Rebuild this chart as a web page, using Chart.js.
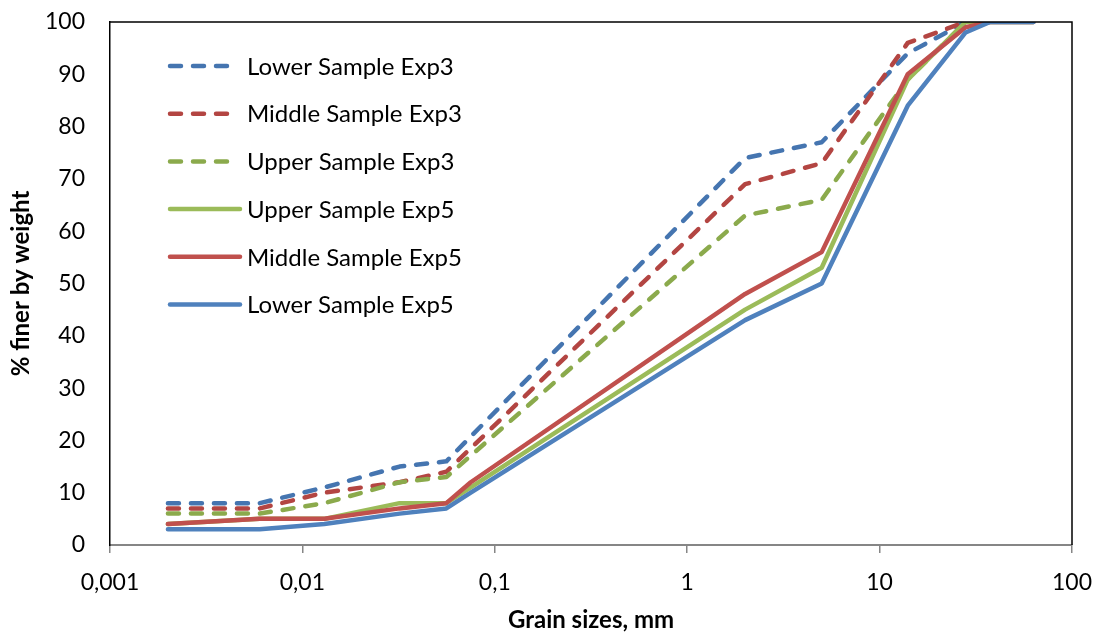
<!DOCTYPE html>
<html>
<head>
<meta charset="utf-8">
<title>Grain size distribution</title>
<script src="https://cdn.jsdelivr.net/npm/chart.js@4.4.1/dist/chart.umd.min.js"></script>
<style>
    html, body { margin: 0; padding: 0; background: #ffffff; }
    #wrap { width: 1097px; height: 635px; }
</style>
</head>
<body>
<div id="wrap"><canvas id="grainChart" width="1097" height="635"></canvas></div>
<script>
// Grain sizes (mm) for the Exp3 samples (dashed) and Exp5 samples (solid)
const sizesExp3 = [0.002, 0.006, 0.013, 0.032, 0.056, 2, 5, 14, 28];
const sizesExp5 = [0.002, 0.006, 0.013, 0.032, 0.056, 0.075, 2, 5, 14, 28, 37.5, 63];

// % finer by weight
const lowerExp3  = [8, 8, 11, 15, 16, 74, 77, 94, 100];
const middleExp3 = [7, 7, 10, 12, 14, 69, 73, 96, 100];
const upperExp3  = [6, 6, 8, 12, 13, 63, 66, 89, 100];
const upperExp5  = [4, 5, 5, 8, 8, 11, 45, 53, 89, 100, 100, 100];
const middleExp5 = [4, 5, 5, 7, 8, 12, 48, 56, 90, 99, 100, 100];
const lowerExp5  = [3, 3, 4, 6, 7, 10, 43, 50, 84, 98, 100, 100];

const xTickValues = [0.001, 0.01, 0.1, 1, 10, 100];
const xTickLabels = ['0,001', '0,01', '0,1', '1', '10', '100'];
const seriesLabels = ['Lower Sample Exp3', 'Middle Sample Exp3', 'Upper Sample Exp3',
                      'Upper Sample Exp5', 'Middle Sample Exp5', 'Lower Sample Exp5'];

const FONT = 'Lato, "Open Sans", sans-serif';

function toPoints(xs, ys) {
    return xs.map((x, i) => ({ x: x, y: ys[i] }));
}

function makeSet(label, xs, ys, color, dashed, idx) {
    return {
        label: label,
        data: toPoints(xs, ys),
        showLine: true,
        borderColor: color,
        backgroundColor: color,
        borderWidth: 4.5,
        borderDash: dashed ? [11, 12] : [],
        borderCapStyle: 'round',
        borderJoinStyle: 'round',
        pointRadius: 0,
        tension: 0,
        order: 10 - idx   // later series drawn on top, like the original
    };
}

const datasets = [
    makeSet(seriesLabels[0], sizesExp3, lowerExp3,  '#4575B0', true, 0),
    makeSet(seriesLabels[1], sizesExp3, middleExp3, '#B34542', true, 1),
    makeSet(seriesLabels[2], sizesExp3, upperExp3,  '#8BAA4C', true, 2),
    makeSet(seriesLabels[3], sizesExp5, upperExp5,  '#9BBB59', false, 3),
    makeSet(seriesLabels[4], sizesExp5, middleExp5, '#C0504D', false, 4),
    makeSet(seriesLabels[5], sizesExp5, lowerExp5,  '#4F81BD', false, 5)
];

// Top/right frame and the legend drawn inside the plot area
const frameAndLegend = {
    id: 'frameAndLegend',
    afterDatasetsDraw(chart) {
        const ctx = chart.ctx;
        const a = chart.chartArea;
        ctx.save();
        ctx.strokeStyle = '#000000';
        ctx.lineWidth = 1.5;
        ctx.beginPath();
        ctx.moveTo(a.left, a.top);
        ctx.lineTo(a.right, a.top);
        ctx.lineTo(a.right, a.bottom);
        ctx.stroke();

        ctx.font = '24px ' + FONT;
        ctx.fillStyle = '#000000';
        ctx.textBaseline = 'middle';
        chart.data.datasets.forEach((ds, i) => {
            const y = a.top + 44 + i * 47.7;
            const x0 = a.left + 60;
            ctx.strokeStyle = ds.borderColor;
            ctx.lineWidth = ds.borderWidth;
            ctx.lineCap = 'round';
            ctx.setLineDash(ds.borderDash);
            ctx.beginPath();
            ctx.moveTo(x0, y);
            ctx.lineTo(x0 + (ds.borderDash.length ? 63 : 70), y);
            ctx.stroke();
            ctx.setLineDash([]);
            ctx.fillText(ds.label, x0 + 77, y + 1);
        });
        ctx.restore();
    }
};

const ctx = document.getElementById('grainChart').getContext('2d');
new Chart(ctx, {
    type: 'scatter',
    data: { datasets: datasets },
    options: {
        responsive: false,
        animation: false,
        layout: { padding: { left: 0, right: 25, top: 22, bottom: 0 } },
        plugins: {
            legend: { display: false },
            tooltip: { enabled: false }
        },
        scales: {
            x: {
                type: 'logarithmic',
                min: 0.001,
                max: 100,
                afterBuildTicks: scale => {
                    scale.ticks = xTickValues.map(v => ({ value: v }));
                },
                afterFit: scale => {
                    scale.height = 90;
                    scale.paddingLeft = 0;
                    scale.paddingRight = 0;
                },
                ticks: {
                    color: '#000000',
                    font: { family: FONT, size: 23 },
                    padding: 16,
                    maxRotation: 0,
                    autoSkip: false,
                    callback: (value, index) => xTickLabels[index]
                },
                grid: {
                    display: true,
                    drawOnChartArea: false,
                    drawTicks: true,
                    tickLength: 8,
                    color: '#868686',
                    lineWidth: 1.5
                },
                border: { display: true, color: '#868686', width: 2 },
                title: {
                    display: true,
                    text: 'Grain sizes, mm',
                    color: '#000000',
                    font: { family: FONT, size: 24, weight: 'bold' },
                    padding: { top: 0, bottom: 0 }
                }
            },
            y: {
                min: 0,
                max: 100,
                afterFit: scale => {
                    scale.width = 110;
                    scale.paddingTop = 0;
                    scale.paddingBottom = 0;
                },
                ticks: {
                    stepSize: 10,
                    color: '#000000',
                    font: { family: FONT, size: 23 },
                    padding: 25
                },
                grid: { display: false, drawTicks: false },
                border: { display: true, color: '#000000', width: 1.5 },
                title: {
                    display: true,
                    text: '% finer by weight',
                    color: '#000000',
                    font: { family: FONT, size: 24, weight: 'bold' },
                    padding: { top: 7, bottom: 0 }
                }
            }
        }
    },
    plugins: [frameAndLegend]
});
</script>
</body>
</html>
